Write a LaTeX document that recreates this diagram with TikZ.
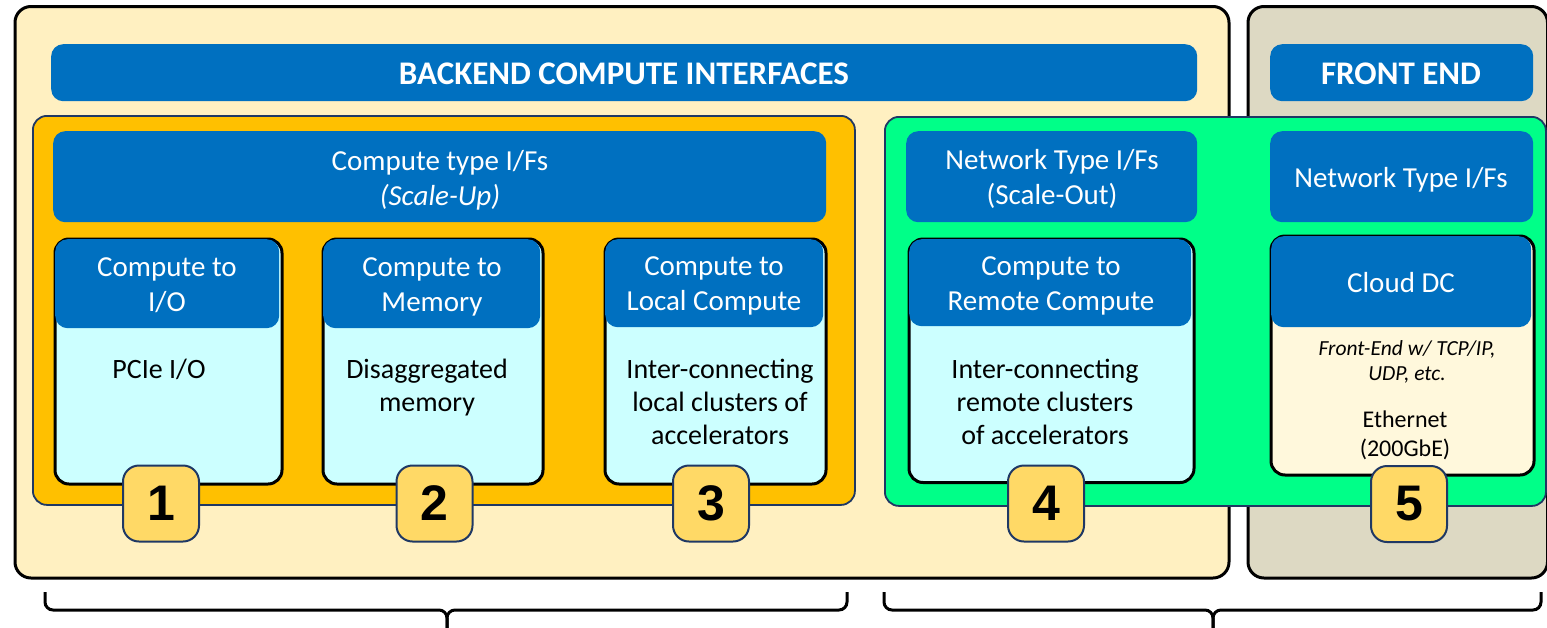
\documentclass[tikz,border=0pt]{standalone}
\usepackage{fontspec}
\setmainfont{Carlito}
\newfontfamily\badgefont{Liberation Sans}
\definecolor{cream}{HTML}{FFF0C1}
\definecolor{tan}{HTML}{DDD9C3}
\definecolor{orangeY}{HTML}{FFC000}
\definecolor{greenB}{HTML}{00FF88}
\definecolor{blueH}{HTML}{0070C0}
\definecolor{cyanB}{HTML}{CCFFFF}
\definecolor{silk}{HTML}{FFF8DC}
\definecolor{badgeY}{HTML}{FFD966}
\definecolor{navy}{HTML}{1F3864}
\newcommand\boxat[6]{%
  \node[#1, anchor=north west, inner sep=0pt, minimum width={#5-#3}, minimum height={#6-#4}] (#2) at (#3,#4) {};}
\tikzset{
  outerbox/.style={draw=black, line width=3pt, rounded corners=16pt},
  banner/.style={fill=blueH, rounded corners=12pt},
  group/.style={draw=navy, line width=1.8pt, rounded corners=14pt},
  cardbox/.style={draw=black, line width=3pt, rounded corners=14pt},
  hdrbox/.style={fill=blueH, rounded corners=12.5pt},
  bigtitle/.style={text=white, font=\fontsize{33}{38}\selectfont\bfseries, inner sep=0pt, anchor=base},
  hdrtext/.style={text=white, font=\fontsize{29}{35}\selectfont, align=center, inner sep=0pt, anchor=base},
  bodytext/.style={text=black, font=\fontsize{28}{33}\selectfont, align=center, inner sep=0pt, anchor=base},
  badge/.style={draw=navy, line width=2pt, fill=badgeY, rounded corners=16pt, minimum size=76pt, inner sep=0pt, font=\badgefont\fontsize{50}{50}\selectfont\bfseries},
  brace/.style={draw=black, line width=3pt, rounded corners=8pt}
}
\begin{document}
\begin{tikzpicture}[x=1pt,y=-1pt]
\useasboundingbox (0,0) rectangle (1547,627);
% outer regions
\boxat{outerbox, fill=cream}{backend}{13.5}{5}{1227.5}{576.5}
\boxat{outerbox, fill=tan}{frontend}{1246.5}{5}{1546}{576.5}
% banners
\boxat{banner}{bkbanner}{51}{44}{1197}{101}
\boxat{banner}{febanner}{1270}{44}{1533}{101}
\node[bigtitle] (bktitle) at (624,84) {BACKEND COMPUTE INTERFACES};
\node[bigtitle] (fetitle) at (1401,84) {FRONT END};
% groups
\boxat{group, fill=orangeY}{scaleup}{32}{115}{854}{504}
\boxat{group, fill=greenB}{scaleout}{884}{116}{1545}{505}
% type headers
\boxat{banner}{cthdr}{53}{131}{826}{222}
\boxat{banner}{nthdr}{906}{131}{1197}{222}
\boxat{banner}{fthdr}{1270}{131}{1533}{222}
\node[hdrtext] (cttext) at (440,205) {Compute type I/Fs\\\itshape (Scale-Up)};
\node[hdrtext] (nttext) at (1052,204) {Network Type I/Fs\\(Scale-Out)};
\node[hdrtext] (fttext) at (1401,187) {Network Type I/Fs};
% cards
\boxat{cardbox, fill=cyanB}{c1}{53.5}{237.5}{280.5}{482.5}
\boxat{hdrbox}{h1}{55}{239}{279}{328}
\boxat{cardbox, fill=cyanB}{c2}{321.5}{237.5}{541.5}{482.5}
\boxat{hdrbox}{h2}{323}{239}{540}{328}
\boxat{cardbox, fill=cyanB}{c3}{603.5}{237.5}{824.5}{482.5}
\boxat{hdrbox}{h3}{605}{239}{823}{327}
\boxat{cardbox, fill=cyanB}{c4}{907.5}{237.5}{1192.5}{481}
\boxat{hdrbox}{h4}{909}{239}{1191}{326}
\boxat{cardbox, fill=silk}{c5}{1269.5}{234.5}{1532.5}{473.5}
\boxat{hdrbox}{h5}{1271}{236}{1531}{327}
% card texts
\node[hdrtext] (h1t) at (167,311) {Compute to\\I/O};
\node[hdrtext] (h2t) at (432,311) {Compute to\\Memory};
\node[hdrtext] (h3t) at (714,310) {Compute to\\Local Compute};
\node[hdrtext] (h4t) at (1051,310) {Compute to\\Remote Compute};
\node[hdrtext] (h5t) at (1401,292) {Cloud DC};
\node[bodytext] (b1t) at (159,378) {PCIe I/O};
\node[bodytext] (b2t) at (427,411) {Disaggregated\\memory};
\node[bodytext] (b3t) at (720,444) {Inter-connecting\\local clusters of\\accelerators};
\node[bodytext] (b4t) at (1045,444) {Inter-connecting\\remote clusters\\of accelerators};
\node[text=black, font=\fontsize{21.5}{25}\selectfont\itshape, align=center, inner sep=0pt, anchor=base] (b5i) at (1407,380) {Front-End w/ TCP/IP,\\UDP, etc.};
\node[text=black, font=\fontsize{24}{29}\selectfont, align=center, inner sep=0pt, anchor=base] (b5t) at (1405,456) {Ethernet\\(200GbE)};
% badges
\node[badge] (n1) at (161,503.5) {1};
\node[badge] (n2) at (434.5,503.5) {2};
\node[badge] (n3) at (711,503.5) {3};
\node[badge] (n4) at (1046,503.5) {4};
\node[badge] (n5) at (1409,504) {5};
% braces
\coordinate (lbl) at (45,592);
\coordinate (lbr) at (847,592);
\coordinate (lbm) at (447,632);
\coordinate (rbl) at (884,592);
\coordinate (rbr) at (1541,592);
\coordinate (rbm) at (1213,632);
\draw[brace] (lbl) -- (lbl |- 0,610) -- (lbm |- 0,610) -- (lbm);
\draw[brace] (lbr) -- (lbr |- 0,610) -- (lbm |- 0,610) -- (lbm);
\draw[brace] (rbl) -- (rbl |- 0,610) -- (rbm |- 0,610) -- (rbm);
\draw[brace] (rbr) -- (rbr |- 0,610) -- (rbm |- 0,610) -- (rbm);
\end{tikzpicture}
\end{document}
